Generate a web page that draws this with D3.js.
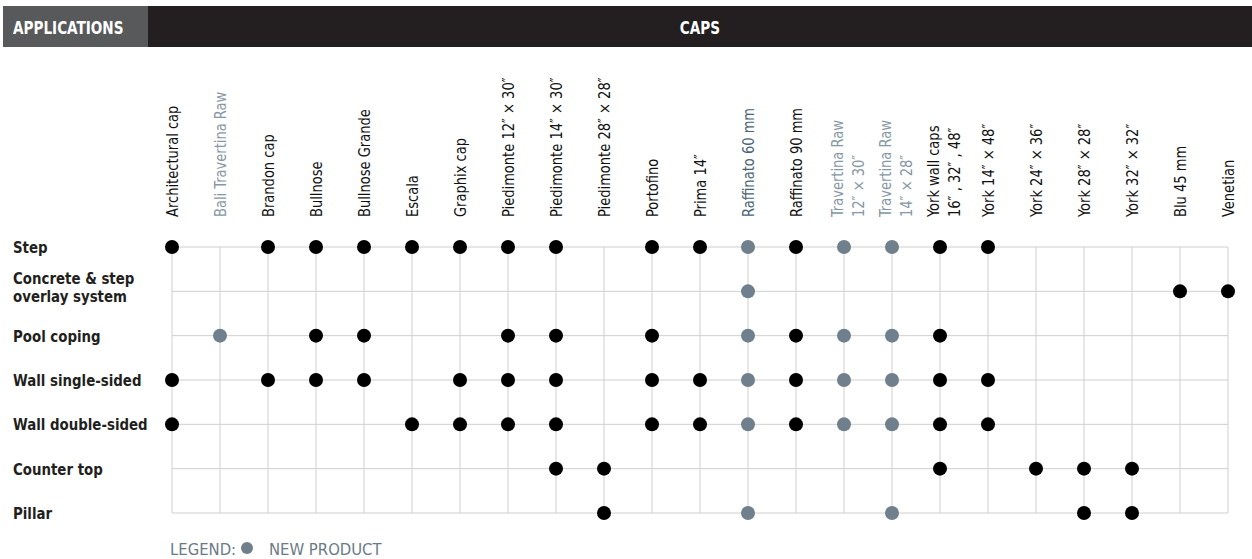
<!DOCTYPE html>
<html><head><meta charset="utf-8">
<script src="https://cdn.jsdelivr.net/npm/d3@7/dist/d3.min.js"></script>
<style>
body{margin:0;background:#fff;}
text{font-family:"DejaVu Sans Condensed","Liberation Sans Narrow",sans-serif;}
</style></head>
<body><svg id="c" width="1252" height="559"></svg>
<script>
const columns = [
  ["Architectural cap"], ["Bali Travertina Raw"], ["Brandon  cap"], ["Bullnose"], ["Bullnose Grande"],
  ["Escala"], ["Graphix cap"], ["Piedimonte 12″ × 30″"], ["Piedimonte 14″ × 30″"], ["Piedimonte 28″ × 28″"],
  ["Portofino"], ["Prima 14″"], ["Raffinato 60 mm"], ["Raffinato 90 mm"], ["Travertina Raw", "12″ × 30″"],
  ["Travertina Raw", "14″ × 28″"], ["York wall caps", "16″ , 32″ , 48″"], ["York 14″ × 48″"], ["York 24″ × 36″"],
  ["York 28″ × 28″"], ["York 32″ × 32″"], ["Blu 45 mm"], ["Venetian"]
];
const columnKeys = columns.map((c, i) => i);
// label colour style: 0 normal, 1 light grey (new), 2 blue grey (new)
const columnLabelStyle = [0,1,0,0,0,0,0,0,0,0,0,0,2,0,1,1,0,0,0,0,0,0,0];
const newProduct = [false,true,false,false,false,false,false,false,false,false,false,false,true,false,true,true,false,false,false,false,false,false,false];
const applications = [
  ["Step"], ["Concrete & step", "overlay system"], ["Pool coping"], ["Wall single-sided"],
  ["Wall double-sided"], ["Counter top"], ["Pillar"]
];
// column indexes used by each application
const usage = [
  [0,2,3,4,5,6,7,8,10,11,12,13,14,15,16,17],
  [12,21,22],
  [1,3,4,7,8,10,12,13,14,15,16],
  [0,2,3,4,6,7,8,10,11,12,13,14,15,16,17],
  [0,5,6,7,8,10,11,12,13,14,15,16,17],
  [8,9,16,18,19,20],
  [9,12,15,19,20]
];
const headerLeft = "APPLICATIONS", headerRight = "CAPS";
const legendLabel = "LEGEND:", legendText = "NEW PRODUCT";

const svg = d3.select("#c");
const x = d3.scalePoint().domain(columnKeys).range([172, 1228]);
const y = d3.scalePoint().domain(applications.map((a, i) => i)).range([247, 513]);

// header
svg.append("rect").attr("x", 3).attr("y", 6).attr("width", 145).attr("height", 41).attr("fill", "#58595b");
svg.append("rect").attr("x", 148).attr("y", 6).attr("width", 1104).attr("height", 41).attr("fill", "#231f20");
svg.append("text").attr("transform", "translate(13,34) scale(0.84,1)").attr("fill", "#fff")
  .attr("font-size", 18).attr("font-weight", "bold").text(headerLeft);
svg.append("text").attr("transform", "translate(700,34) scale(0.84,1)").attr("fill", "#fff")
  .attr("font-size", 18).attr("font-weight", "bold").attr("text-anchor", "middle").text(headerRight);

// grid
const grid = svg.append("g").attr("stroke", "#cfcfcf").attr("stroke-width", 1);
applications.forEach((a, i) => {
  grid.append("line").attr("x1", x(0)).attr("x2", x(columns.length - 1)).attr("y1", y(i)).attr("y2", y(i));
});
columnKeys.forEach(k => {
  grid.append("line").attr("x1", x(k)).attr("x2", x(k)).attr("y1", y(0)).attr("y2", y(applications.length - 1));
});

// column labels
const labelColor = ["#111", "#8797a3", "#4b6477"];
columnKeys.forEach(k => {
  const lines = columns[k];
  const offs = lines.length === 1 ? [6] : [-1, 20];
  lines.forEach((t, j) => {
    svg.append("text")
      .attr("transform", `translate(${x(k) + offs[j]},217) rotate(-90) scale(0.88,1)`)
      .attr("font-size", 16.5)
      .attr("fill", labelColor[columnLabelStyle[k]])
      .text(t);
  });
});

// row labels
applications.forEach((lines, i) => {
  const offs = lines.length === 1 ? [6] : [-7, 11];
  lines.forEach((t, j) => {
    svg.append("text").attr("transform", `translate(13,${y(i) + offs[j]}) scale(0.9,1)`)
      .attr("font-size", 16.5).attr("font-weight", "bold").attr("fill", "#231f20").text(t);
  });
});

// dots
const dots = [];
usage.forEach((cols, r) => cols.forEach(c => dots.push({r, c})));
svg.append("g").selectAll("circle").data(dots).join("circle")
  .attr("cx", d => x(d.c)).attr("cy", d => y(d.r)).attr("r", 7)
  .attr("fill", d => newProduct[d.c] ? "#6f7f8b" : "#000");

// legend
svg.append("text").attr("x", 170).attr("y", 555).attr("font-size", 16.5).attr("fill", "#6b7a87").text(legendLabel);
svg.append("circle").attr("cx", 247).attr("cy", 548).attr("r", 6).attr("fill", "#6f7f8b");
svg.append("text").attr("x", 269).attr("y", 555).attr("font-size", 16.5).attr("fill", "#6b7a87").text(legendText);
</script></body></html>
